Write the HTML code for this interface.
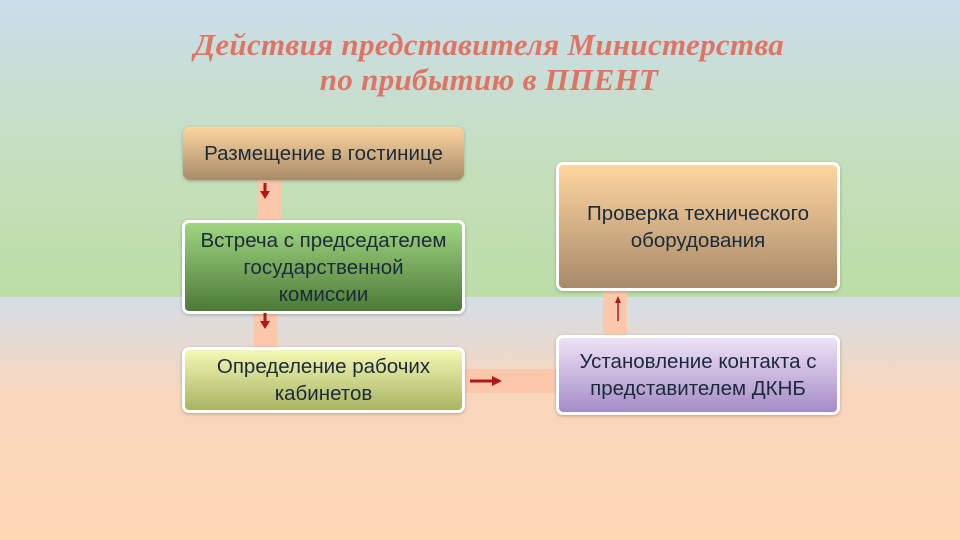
<!DOCTYPE html>
<html><head><meta charset="utf-8"><style>
body{margin:0;width:960px;height:540px;position:relative;overflow:hidden;font-family:"Liberation Sans",sans-serif;}
.bg1{position:absolute;left:0;top:0;width:960px;height:297px;background:linear-gradient(#cadeea,#c4dfba 60%,#bcdea6);}
.bg2{position:absolute;left:0;top:297px;width:960px;height:243px;background:linear-gradient(#d4dee6,#f8d6bc 40%,#fdd6b4);}
.title{position:absolute;left:0;top:27px;width:978px;text-align:center;font-family:"Liberation Serif",serif;font-style:italic;font-weight:bold;font-size:31px;line-height:35px;color:#e07464;letter-spacing:0.3px;}
.c{position:absolute;background:#fcc8ac;}
.b{position:absolute;box-sizing:border-box;border-radius:7px;display:flex;align-items:center;justify-content:center;text-align:center;font-size:20.5px;line-height:27px;color:#1a2a3a;border:3px solid #fff;box-shadow:0 1px 3px rgba(0,0,0,.25);}
svg{position:absolute;left:0;top:0;}
</style></head><body>
<div class="bg1"></div><div class="bg2"></div>
<div class="title">Действия представителя Министерства<br>по прибытию в ППЕНТ</div>
<div class="c" style="left:257px;top:179px;width:24px;height:42px"></div>
<div class="c" style="left:253px;top:313px;width:24px;height:35px"></div>
<div class="c" style="left:464px;top:369px;width:93px;height:24px"></div>
<div class="c" style="left:603px;top:290px;width:24px;height:46px"></div>
<div class="b" style="left:183px;top:127px;width:281px;height:53px;border:none;background:linear-gradient(#fdd6a0,#a88b68)">Размещение в гостинице</div>
<div class="b" style="left:182px;top:220px;width:283px;height:94px;background:linear-gradient(#a0d680,#4c7a38)">Встреча с председателем<br>государственной<br>комиссии</div>
<div class="b" style="left:182px;top:347px;width:283px;height:66px;background:linear-gradient(#f4f8b4,#a8b464)">Определение рабочих<br>кабинетов</div>
<div class="b" style="left:556px;top:162px;width:284px;height:129px;background:linear-gradient(#fed6a0,#a88a68)">Проверка технического<br>оборудования</div>
<div class="b" style="left:556px;top:335px;width:284px;height:80px;background:linear-gradient(#eee2f6,#a58cc6)">Установление контакта с<br>представителем ДКНБ</div>
<svg width="960" height="540">
<g fill="#b01818" stroke="#b01818">
<line x1="265" y1="183" x2="265" y2="192" stroke-width="3"/><polygon points="260,191 270,191 265,199" stroke="none"/>
<line x1="265" y1="313" x2="265" y2="322" stroke-width="3"/><polygon points="260,321 270,321 265,329" stroke="none"/>
<line x1="470" y1="381" x2="494" y2="381" stroke-width="3"/><polygon points="492,376 492,386 502,381" stroke="none"/>
<line x1="618" y1="321" x2="618" y2="302" stroke-width="1.5"/><polygon points="615,303 621,303 618,296" stroke="none"/>
</g></svg>
</body></html>
